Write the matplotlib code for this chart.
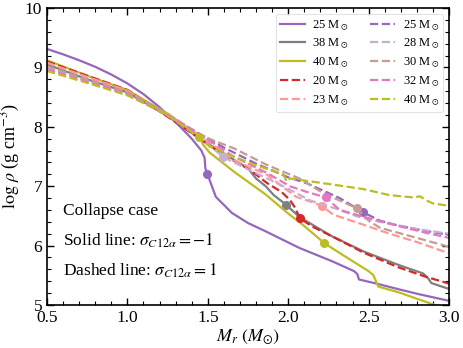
import matplotlib
matplotlib.use("Agg")
import matplotlib.pyplot as plt
from matplotlib.ticker import MultipleLocator

plt.rcParams['font.family'] = ['Liberation Serif', 'DejaVu Serif']
plt.rcParams['mathtext.fontset'] = 'stix'

# ---- data ----
# solid lines (sigma = -1)
s25_x = [0.5,0.6,0.7,0.8,0.9,1.0,1.1,1.2,1.3,1.4,1.46,1.48,1.485,1.497,1.55,1.65,1.75,1.86,1.95,2.07,2.17,2.27,2.41,2.43,2.44,2.55,2.68,2.8,2.9,3.0]
s25_y = [9.31,9.22,9.12,9.01,8.88,8.73,8.55,8.33,8.08,7.80,7.60,7.48,7.30,7.21,6.82,6.55,6.38,6.24,6.12,5.96,5.85,5.74,5.57,5.52,5.43,5.36,5.27,5.19,5.13,5.07]
s38_x = [0.5,0.75,1.0,1.25,1.45,1.6,1.75,1.80,1.86,1.91,1.986,2.07,2.27,2.47,2.68,2.84,2.87,2.89,3.0]
s38_y = [9.05,8.80,8.58,8.18,7.80,7.55,7.30,7.13,7.00,6.85,6.69,6.48,6.16,5.90,5.68,5.53,5.45,5.37,5.27]
s40_x = [0.5,0.75,1.0,1.25,1.45,1.47,1.51,1.66,1.86,2.0,2.1,2.225,2.37,2.5,2.53,2.56,2.68,2.88,3.0]
s40_y = [9.12,8.86,8.62,8.22,7.84,7.70,7.57,7.25,6.86,6.54,6.33,6.04,5.79,5.57,5.50,5.31,5.22,5.03,4.93]
d20_x = [0.5,0.75,1.0,1.25,1.31,1.45,1.6,1.76,1.87,1.96,2.01,2.04,2.073,2.15,2.27,2.47,2.68,2.85,3.0]
d20_y = [9.10,8.86,8.62,8.17,8.06,7.80,7.52,7.28,7.05,6.90,6.77,6.65,6.46,6.32,6.16,5.88,5.64,5.48,5.36]
d23_x = [0.5,0.75,1.0,1.25,1.45,1.66,1.87,1.95,2.05,2.15,2.208,2.28,2.47,2.63,2.8,3.0]
d23_y = [9.08,8.84,8.61,8.19,7.86,7.44,7.19,7.02,6.82,6.73,6.67,6.52,6.35,6.20,6.06,5.87]
# dashed lines (sigma = +1)
d25_x = [0.5,0.75,1.0,1.25,1.45,1.6,1.8,2.0,2.115,2.32,2.467,2.57,2.68,2.85,3.0]
d25_y = [9.00,8.78,8.57,8.20,7.88,7.65,7.38,7.15,7.05,6.80,6.56,6.42,6.34,6.25,6.18]
d28_x = [0.5,0.75,1.0,1.25,1.45,1.597,1.76,1.97,2.136,2.3,2.43,2.57,2.8,3.0]
d28_y = [8.99,8.77,8.55,8.19,7.82,7.49,7.27,7.00,6.76,6.62,6.49,6.40,6.28,6.20]
d30_x = [0.5,0.75,1.0,1.25,1.45,1.66,1.866,2.07,2.22,2.426,2.5,2.57,2.8,3.0]
d30_y = [9.02,8.80,8.58,8.22,7.86,7.64,7.36,7.13,6.88,6.63,6.42,6.30,6.13,5.98]
d32_x = [0.5,0.75,1.0,1.25,1.45,1.66,1.87,2.01,2.12,2.235,2.32,2.53,2.7,2.85,3.0]
d32_y = [8.97,8.76,8.55,8.20,7.87,7.50,7.22,7.00,6.90,6.81,6.60,6.44,6.32,6.22,6.13]
d40_x = [0.5,0.75,1.0,1.25,1.447,1.51,1.76,1.97,1.99,2.01,2.22,2.47,2.63,2.78,2.82,2.86,2.9,3.0]
d40_y = [8.94,8.74,8.53,8.20,7.82,7.67,7.39,7.20,7.08,7.13,7.05,6.95,6.85,6.81,6.83,6.76,6.71,6.67]

masses_solid = ['25', '38', '40']
masses_dashed_a = ['20', '23']
masses_dashed_b = ['25', '28', '30', '32', '40']

marker_x = [1.497, 1.986, 2.225, 2.073, 2.208, 2.467, 1.597, 2.426, 2.235, 1.447]
marker_y = [7.21, 6.69, 6.04, 6.46, 6.67, 6.56, 7.49, 6.63, 6.81, 7.82]

c_purple = '#9467bd'; c_gray = '#7f7f7f'; c_olive = '#bcbd22'; c_red = '#d62728'
c_salmon = '#ff9896'; c_lpurple = '#c5b0d5'; c_tan = '#c49c94'; c_pink = '#e377c2'

series = [
    (s25_x, s25_y, c_purple, '-', masses_solid[0]),
    (s38_x, s38_y, c_gray, '-', masses_solid[1]),
    (s40_x, s40_y, c_olive, '-', masses_solid[2]),
    (d20_x, d20_y, c_red, '--', masses_dashed_a[0]),
    (d23_x, d23_y, c_salmon, '--', masses_dashed_a[1]),
    (d25_x, d25_y, c_purple, '--', masses_dashed_b[0]),
    (d28_x, d28_y, c_lpurple, '--', masses_dashed_b[1]),
    (d30_x, d30_y, c_tan, '--', masses_dashed_b[2]),
    (d32_x, d32_y, c_pink, '--', masses_dashed_b[3]),
    (d40_x, d40_y, c_olive, '--', masses_dashed_b[4]),
]

fig = plt.figure(figsize=(4.63, 3.48), dpi=100)
ax = fig.add_axes([47/463, 1-305/348, (449-47)/463, (305-8)/348])

for i, (x, y, c, ls, m) in enumerate(series):
    ax.plot(x, y, color=c, ls=ls, lw=1.6, label=m + r' M$_\odot$')
    ax.plot(marker_x[i], marker_y[i], 'o', color=c, ms=5.5)

ax.set_xlim(0.5, 3.0)
ax.set_ylim(5, 10)
ax.xaxis.set_major_locator(MultipleLocator(0.5))
ax.xaxis.set_minor_locator(MultipleLocator(0.1))
ax.yaxis.set_major_locator(MultipleLocator(1))
ax.yaxis.set_minor_locator(MultipleLocator(0.2))
ax.tick_params(which='both', direction='in', top=True, right=True, labelsize=12.5)
ax.tick_params(which='major', length=5, width=1)
ax.tick_params(which='minor', length=3, width=0.8)
for sp in ax.spines.values():
    sp.set_linewidth(1.2)

ax.set_xlabel(r'$M_r\ (M_{\odot})$', fontsize=13, labelpad=1)
ax.set_ylabel(r'$\log\,\rho$ (g cm$^{-3}$)', fontsize=13, labelpad=2)

ax.text(0.598, 6.59, 'Collapse case', fontsize=12.5, va='center')
ax.text(0.598, 6.08, r'Solid line: $\sigma_{C12\alpha}=-1$', fontsize=12.5, va='center')
ax.text(0.598, 5.58, r'Dashed line: $\sigma_{C12\alpha}=1$', fontsize=12.5, va='center')

leg = ax.legend(ncol=2, loc='upper right', fontsize=9, frameon=True,
                handlelength=2.0, columnspacing=1.7, labelspacing=0.33,
                borderaxespad=0.45, handletextpad=0.6, borderpad=0.35)
leg.get_frame().set_edgecolor('#dddddd')
leg.get_frame().set_linewidth(0.8)

fig.savefig('out.png', dpi=100)
